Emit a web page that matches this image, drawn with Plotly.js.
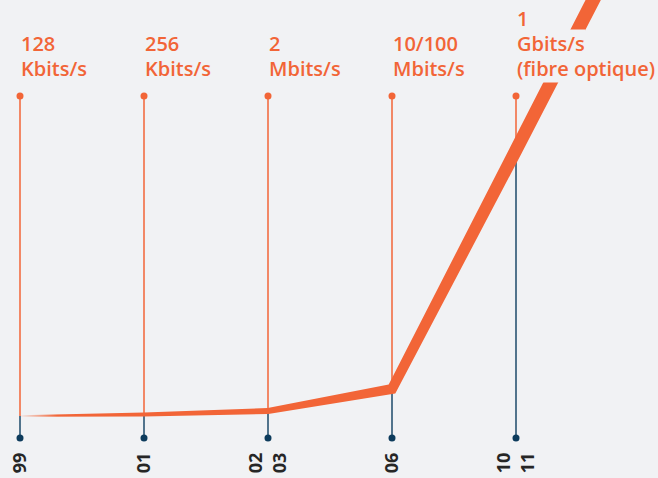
<!DOCTYPE html>
<html>
<head>
<meta charset="utf-8">
<script src="https://cdn.plot.ly/plotly-3.0.1.min.js"></script>
<style>
  html, body { margin: 0; padding: 0; background: #f1f2f4; }
  #chart { width: 658px; height: 478px; }
</style>
</head>
<body>
<div id="chart"></div>
<script>
// ---- data ----
const yearLabels = ['99', '01', '02<br>03', '06', '10<br>11'];
const yearPos = [0, 1, 2, 3, 4];
const speedLabels = ['128<br>Kbits/s', '256<br>Kbits/s', '2<br>Mbits/s', '10/100<br>Mbits/s', '1<br>Gbits/s<br>(fibre optique)'];
// growth curve (arbitrary index units), last point is the trend beyond 10/11
const curveX = [0, 1, 2, 3, 4, 5];
const curveV = [1, 2.5, 6, 28, 267, 508];
const stemTop = 321;
const stemBottom = -21;

// ---- style ----
const ORANGE = '#f26537';
const NAVY = '#0d3b5c';
const NAVY_LINE = '#1c4a6a';
const BG = '#f1f2f4';
const bandWidth = [1.5, 4, 6, 10, 13, 14]; // stroke width (px) along the curve

const W = 658, H = 478;
const margin = {l: 0, r: 0, t: 0, b: 30};
const xRange = [-20 / 124, 638 / 124];
const yRange = [-31, 417];
const kx = (W - margin.l - margin.r) / (xRange[1] - xRange[0]);
const ky = (H - margin.t - margin.b) / (yRange[1] - yRange[0]);

// tapered band polygon around the curve, using mitred offsets in pixel space
function band(xs, vs, ws) {
  const P = xs.map((x, i) => [x * kx, vs[i] * ky]);
  const n = P.length;
  const segN = [];
  for (let i = 0; i < n - 1; i++) {
    const dx = P[i + 1][0] - P[i][0], dy = P[i + 1][1] - P[i][1];
    const L = Math.hypot(dx, dy);
    segN.push([-dy / L, dx / L]);
  }
  const up = [], lo = [];
  for (let i = 0; i < n; i++) {
    let nx, ny, scale = 1;
    if (i === 0) { [nx, ny] = segN[0]; }
    else if (i === n - 1) { [nx, ny] = segN[n - 2]; }
    else {
      const a = segN[i - 1], b = segN[i];
      nx = a[0] + b[0]; ny = a[1] + b[1];
      const L = Math.hypot(nx, ny);
      nx /= L; ny /= L;
      scale = 1 / (nx * a[0] + ny * a[1]);
    }
    const h = ws[i] / 2 * scale;
    up.push([(P[i][0] + nx * h) / kx, (P[i][1] + ny * h) / ky]);
    lo.push([(P[i][0] - nx * h) / kx, (P[i][1] - ny * h) / ky]);
  }
  const poly = up.concat(lo.reverse());
  return {x: poly.map(p => p[0]), y: poly.map(p => p[1])};
}

const traces = [];
// navy stems below the curve, orange stems above
yearPos.forEach((x, i) => {
  traces.push({x: [x, x], y: [stemBottom, curveV[i]], mode: 'lines',
    line: {color: NAVY_LINE, width: 1.5}, hoverinfo: 'skip'});
  traces.push({x: [x, x], y: [curveV[i], stemTop], mode: 'lines',
    line: {color: ORANGE, width: 1.5}, hoverinfo: 'skip'});
});
// dots
traces.push({x: yearPos, y: yearPos.map(() => stemTop), mode: 'markers',
  marker: {color: ORANGE, size: 7}, hoverinfo: 'skip'});
traces.push({x: yearPos, y: yearPos.map(() => stemBottom), mode: 'markers',
  marker: {color: NAVY, size: 7}, hoverinfo: 'skip'});
// curve band
const b = band(curveX, curveV, bandWidth);
traces.push({x: b.x, y: b.y, mode: 'lines', fill: 'toself', line: {width: 0},
  fillcolor: ORANGE,
  fillgradient: {type: 'horizontal', start: 0, stop: 0.3,
    colorscale: [[0, 'rgba(242,101,55,0.05)'], [1, 'rgba(242,101,55,1)']]},
  hoverinfo: 'skip'});

// labels: one annotation per text line, each with a background that masks the curve
const LINE_STEP = 25;
const annotations = [];
speedLabels.forEach((label, i) => {
  const lines = label.split('<br>');
  lines.forEach((ln, j) => {
    annotations.push({
      x: yearPos[i], y: 334.5, xref: 'x', yref: 'y', text: ln, showarrow: false,
      xanchor: 'left', yanchor: 'bottom', align: 'left',
      xshift: 0, yshift: (lines.length - 1 - j) * LINE_STEP,
      bgcolor: BG, borderpad: 0,
      font: {family: 'Open Sans, sans-serif', size: 20, color: ORANGE, weight: 600}
    });
  });
});

const layout = {
  width: W, height: H, margin: margin,
  paper_bgcolor: BG, plot_bgcolor: BG,
  showlegend: false,
  xaxis: {range: xRange, showgrid: false, zeroline: false, showline: false,
    tickvals: yearPos, ticktext: yearLabels, tickangle: -90, ticks: '',
    tickfont: {family: 'Open Sans, sans-serif', size: 18, color: '#262626', weight: 700},
    fixedrange: true},
  yaxis: {range: yRange, visible: false, fixedrange: true},
  annotations: annotations
};

Plotly.newPlot('chart', traces, layout, {staticPlot: true, displayModeBar: false});
</script>
</body>
</html>
